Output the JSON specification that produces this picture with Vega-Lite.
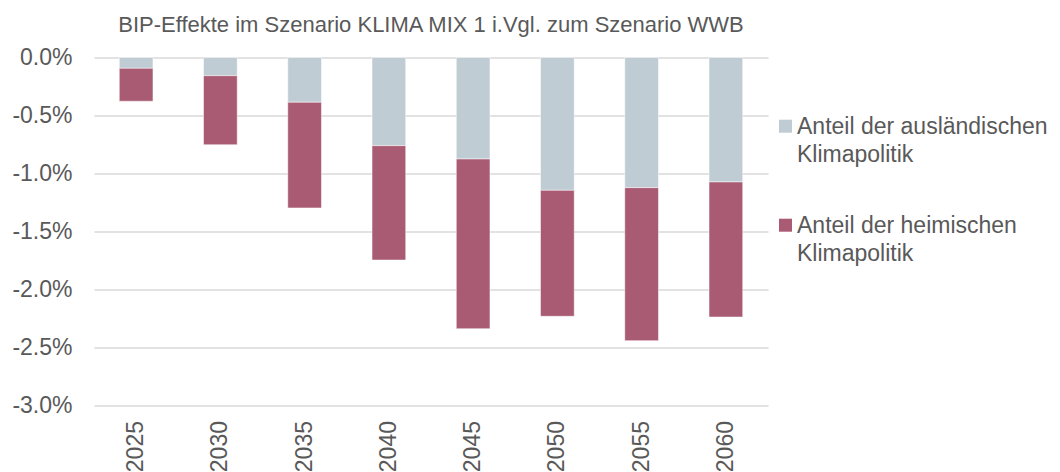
{
  "$schema": "https://vega.github.io/schema/vega-lite/v6.json",
  "width": 674,
  "height": 348,
  "autosize": {"type": "none"},
  "padding": {"left": 94, "top": 57.5, "right": 292, "bottom": 66.5},
  "background": "white",
  "title": {
    "text": "BIP-Effekte im Szenario KLIMA MIX 1 i.Vgl. zum Szenario WWB",
    "font": "Liberation Sans",
    "fontSize": 22,
    "fontWeight": "normal",
    "color": "#595959",
    "anchor": "middle",
    "offset": 10
  },
  "data": {
    "values": [
      {"year": "2025", "part": "Anteil der ausländischen Klimapolitik", "value": -0.093, "ord": 1},
      {"year": "2025", "part": "Anteil der heimischen Klimapolitik", "value": -0.284, "ord": 2},
      {"year": "2030", "part": "Anteil der ausländischen Klimapolitik", "value": -0.157, "ord": 1},
      {"year": "2030", "part": "Anteil der heimischen Klimapolitik", "value": -0.595, "ord": 2},
      {"year": "2035", "part": "Anteil der ausländischen Klimapolitik", "value": -0.386, "ord": 1},
      {"year": "2035", "part": "Anteil der heimischen Klimapolitik", "value": -0.911, "ord": 2},
      {"year": "2040", "part": "Anteil der ausländischen Klimapolitik", "value": -0.760, "ord": 1},
      {"year": "2040", "part": "Anteil der heimischen Klimapolitik", "value": -0.986, "ord": 2},
      {"year": "2045", "part": "Anteil der ausländischen Klimapolitik", "value": -0.875, "ord": 1},
      {"year": "2045", "part": "Anteil der heimischen Klimapolitik", "value": -1.463, "ord": 2},
      {"year": "2050", "part": "Anteil der ausländischen Klimapolitik", "value": -1.145, "ord": 1},
      {"year": "2050", "part": "Anteil der heimischen Klimapolitik", "value": -1.086, "ord": 2},
      {"year": "2055", "part": "Anteil der ausländischen Klimapolitik", "value": -1.122, "ord": 1},
      {"year": "2055", "part": "Anteil der heimischen Klimapolitik", "value": -1.319, "ord": 2},
      {"year": "2060", "part": "Anteil der ausländischen Klimapolitik", "value": -1.073, "ord": 1},
      {"year": "2060", "part": "Anteil der heimischen Klimapolitik", "value": -1.164, "ord": 2}
    ]
  },
  "mark": {"type": "bar", "stroke": "white", "strokeWidth": 0.5},
  "encoding": {
    "x": {
      "field": "year",
      "type": "ordinal",
      "title": null,
      "scale": {"paddingInner": 0.6, "paddingOuter": 0.3},
      "axis": {
        "labelAngle": -90,
        "labelAlign": "right",
        "labelBaseline": "middle",
        "labelPadding": 15,
        "labelFont": "Liberation Sans",
        "labelFontSize": 23,
        "labelColor": "#595959",
        "ticks": false,
        "domain": false,
        "grid": false
      }
    },
    "y": {
      "field": "value",
      "type": "quantitative",
      "stack": "zero",
      "title": null,
      "scale": {"domain": [-3, 0], "nice": false},
      "axis": {
        "values": [0, -0.5, -1, -1.5, -2, -2.5, -3],
        "labelExpr": "replace(format(datum.value, '.1f'), '\u2212', '-') + '%'",
        "labelFont": "Liberation Sans",
        "labelFontSize": 23,
        "labelColor": "#595959",
        "labelPadding": 22,
        "ticks": false,
        "domain": false,
        "grid": true,
        "gridColor": "#D9D9D9",
        "gridWidth": 1.5
      }
    },
    "color": {
      "field": "part",
      "type": "nominal",
      "scale": {
        "domain": ["Anteil der ausländischen Klimapolitik", "Anteil der heimischen Klimapolitik"],
        "range": ["#BFCCD4", "#A85B72"]
      },
      "legend": {
        "title": null,
        "orient": "none",
        "legendX": 680,
        "legendY": 65,
        "symbolType": "M-1,-2.2H1V-0.2H-1Z",
        "symbolSize": 169,
        "symbolStrokeWidth": 0,
        "labelFont": "Liberation Sans",
        "labelFontSize": 23,
        "labelColor": "#595959",
        "labelBaseline": "alphabetic",
        "labelLimit": 400,
        "labelOffset": 0,
        "rowPadding": 47,
        "labelExpr": "[slice(datum.label, 0, indexof(datum.label, ' Klimapolitik')), 'Klimapolitik']",
        "encoding": {"labels": {"lineHeight": {"value": 28}}}
      }
    },
    "order": {"field": "ord", "type": "quantitative"}
  },
  "config": {
    "view": {"stroke": null},
    "font": "Liberation Sans"
  }
}
